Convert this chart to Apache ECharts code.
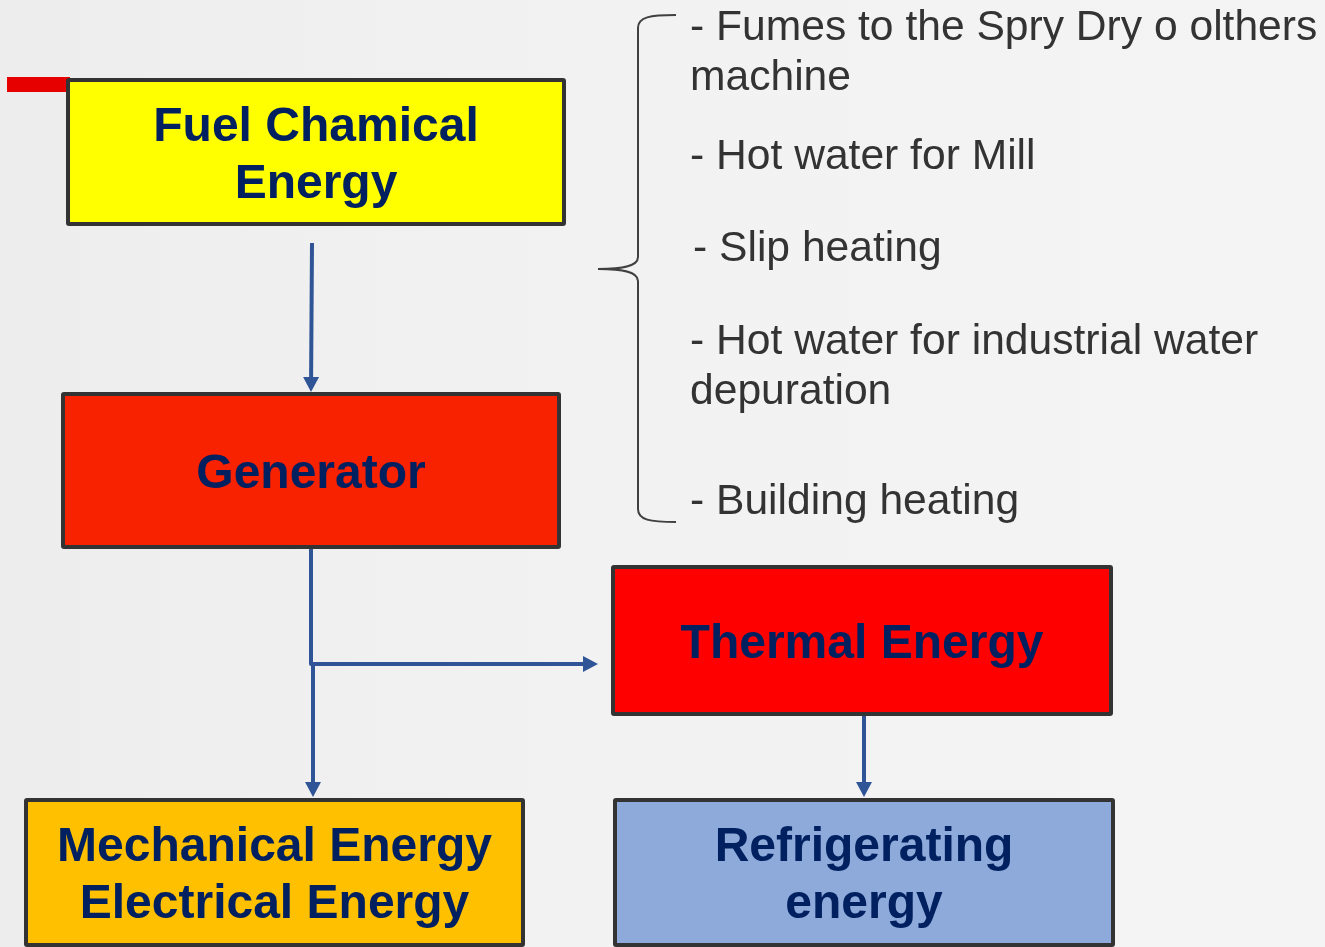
<!DOCTYPE html>
<html>
<head>
<meta charset="utf-8">
<title>Energy flow</title>
<script src="https://cdn.jsdelivr.net/npm/echarts@6.0.0/dist/echarts.min.js"></script>
<style>
  html, body { margin: 0; padding: 0; background: #f3f3f3; }
  #chart { width: 1325px; height: 947px; }
</style>
</head>
<body>
<div id="chart"></div>
<script>
// diagram units = pixels of the original slide (x right, y down)
const boxNames = ['Fuel Chamical\nEnergy', 'Generator', 'Thermal Energy', 'Mechanical Energy\nElectrical Energy', 'Refrigerating\nenergy'];
const boxLeft = [66, 61, 611, 24, 613];
const boxTop = [78, 392, 565, 798, 798];
const boxRight = [566, 561, 1113, 525, 1115];
const boxBottom = [226, 549, 716, 947, 947];
const boxColors = ['#ffff00', '#f82100', '#ff0000', '#ffc000', '#8eaadb'];

const arrowPaths = [
    [[312, 243], [311, 392]],
    [[311, 549], [311, 664], [598, 664]],
    [[313, 664], [313, 797]],
    [[864, 716], [864, 797]]
];

const noteTexts = [
    '- Fumes to the Spry Dry o olthers\nmachine',
    '- Hot water for Mill',
    '- Slip heating',
    '- Hot water for industrial water\ndepuration',
    '- Building heating'
];
const noteX = [690, 690, 693, 690, 690];
const noteBaseline = [40, 169, 261, 354, 514];

// brace: ends / spine / tip in x, top / tip / bottom in y
const braceX = [676, 638, 598];
const braceY = [15, 269, 522];

const accentBar = [7, 77, 70, 92];

const chart = echarts.init(document.getElementById('chart'));

const boxData = boxNames.map((n, i) => [boxLeft[i], boxTop[i], boxRight[i], boxBottom[i]]);
const arrowData = arrowPaths.map(p => p[0]);
const noteData = noteTexts.map((t, i) => [noteX[i], noteBaseline[i]]);

const NOTE_FS = 42.6, NOTE_LH = 50;

const option = {
    animation: false,
    backgroundColor: {
        type: 'linear', x: 0, y: 0, x2: 1, y2: 0,
        colorStops: [
            {offset: 0, color: '#ededed'},
            {offset: 0.45, color: '#f2f2f2'},
            {offset: 1, color: '#f4f4f4'}
        ]
    },
    grid: {left: 0, right: 0, top: 0, bottom: 0},
    xAxis: {type: 'value', min: 0, max: 1325, show: false},
    yAxis: {type: 'value', min: 0, max: 947, inverse: true, show: false},
    series: [
        {
            // red accent bar
            type: 'custom',
            clip: false,
            data: [accentBar],
            renderItem(params, api) {
                const p0 = api.coord([api.value(0), api.value(1)]);
                const p1 = api.coord([api.value(2), api.value(3)]);
                return {
                    type: 'rect',
                    shape: {x: p0[0], y: p0[1], width: p1[0] - p0[0], height: p1[1] - p0[1]},
                    style: {fill: '#e60000'}
                };
            }
        },
        {
            // boxes
            type: 'custom',
            clip: false,
            data: boxData,
            renderItem(params, api) {
                const i = params.dataIndex;
                const p0 = api.coord([api.value(0), api.value(1)]);
                const p1 = api.coord([api.value(2), api.value(3)]);
                return {
                    type: 'group',
                    children: [{
                        type: 'rect',
                        shape: {x: p0[0] + 2, y: p0[1] + 2, width: p1[0] - p0[0] - 4, height: p1[1] - p0[1] - 4, r: 1},
                        style: {fill: boxColors[i], stroke: '#333333', lineWidth: 4}
                    }, {
                        type: 'text',
                        x: (p0[0] + p1[0]) / 2,
                        y: (p0[1] + p1[1]) / 2 + 4,
                        style: {
                            text: boxNames[i],
                            fill: '#002060',
                            font: 'bold 48px "Liberation Sans", Arial, sans-serif',
                            lineHeight: 57,
                            align: 'center',
                            verticalAlign: 'middle'
                        }
                    }]
                };
            }
        },
        {
            // arrows
            type: 'custom',
            clip: false,
            data: arrowData,
            renderItem(params, api) {
                const pts = arrowPaths[params.dataIndex].map(p => api.coord(p));
                const tip = pts[pts.length - 1];
                const prev = pts[pts.length - 2];
                const len = Math.hypot(tip[0] - prev[0], tip[1] - prev[1]);
                const dx = (tip[0] - prev[0]) / len, dy = (tip[1] - prev[1]) / len;
                const head = 15, half = 8;
                const base = [tip[0] - dx * head, tip[1] - dy * head];
                const shaft = pts.slice(0, -1).concat([[base[0] + dx, base[1] + dy]]);
                return {
                    type: 'group',
                    children: [{
                        type: 'polyline',
                        shape: {points: shaft},
                        style: {stroke: '#2f5597', lineWidth: 4, fill: null, lineJoin: 'round'}
                    }, {
                        type: 'polygon',
                        shape: {points: [tip, [base[0] - dy * half, base[1] + dx * half], [base[0] + dy * half, base[1] - dx * half]]},
                        style: {fill: '#2f5597'}
                    }]
                };
            }
        },
        {
            // brace
            type: 'custom',
            clip: false,
            data: [[braceX[0], braceY[0]]],
            renderItem(params, api) {
                const c = (x, y) => api.coord([x, y]);
                const [xe, xs, xt] = braceX;
                const [yt, ym, yb] = braceY;
                const st = {stroke: '#404040', lineWidth: 2, fill: null};
                const bez = (a, b, c1, c2) => ({
                    type: 'bezierCurve',
                    shape: {x1: a[0], y1: a[1], x2: b[0], y2: b[1], cpx1: c1[0], cpy1: c1[1], cpx2: c2[0], cpy2: c2[1]},
                    style: st
                });
                const ln = (a, b) => ({type: 'line', shape: {x1: a[0], y1: a[1], x2: b[0], y2: b[1]}, style: st});
                return {
                    type: 'group',
                    children: [
                        bez(c(xe, yt), c(xs, yt + 13), c(xs + 12, yt), c(xs, yt + 2)),
                        ln(c(xs, yt + 13), c(xs, ym - 12)),
                        bez(c(xs, ym - 12), c(xt, ym), c(xs, ym - 2), c(xs - 18, ym)),
                        bez(c(xt, ym), c(xs, ym + 12), c(xs - 18, ym), c(xs, ym + 2)),
                        ln(c(xs, ym + 12), c(xs, yb - 13)),
                        bez(c(xs, yb - 13), c(xe, yb), c(xs, yb - 2), c(xs + 12, yb))
                    ]
                };
            }
        },
        {
            // notes
            type: 'custom',
            clip: false,
            data: noteData,
            renderItem(params, api) {
                const p = api.coord([api.value(0), api.value(1)]);
                return {
                    type: 'text',
                    x: p[0],
                    y: p[1] - NOTE_LH / 2 - NOTE_FS * 0.35 + 3,
                    style: {
                        text: noteTexts[params.dataIndex],
                        fill: '#333333',
                        font: NOTE_FS + 'px "Liberation Sans", Arial, sans-serif',
                        lineHeight: NOTE_LH,
                        align: 'left',
                        verticalAlign: 'top'
                    }
                };
            }
        }
    ]
};

chart.setOption(option);
</script>
</body>
</html>
